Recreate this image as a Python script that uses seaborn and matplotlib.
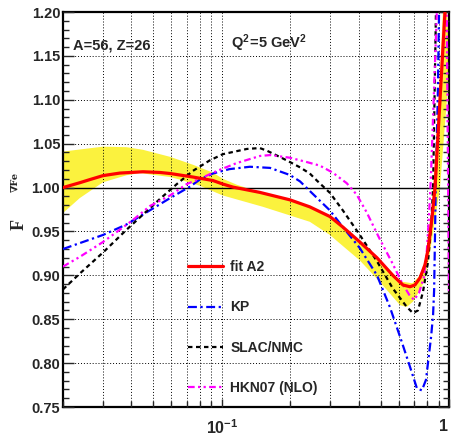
import numpy as np
import matplotlib
matplotlib.use("Agg")
import matplotlib.pyplot as plt
from matplotlib import font_manager
from matplotlib.ticker import FixedLocator, FixedFormatter, NullFormatter
import seaborn as sns

# ---------------- data ----------------
fit_x = [0.0200, 0.0237, 0.0262, 0.0300, 0.0356, 0.0450, 0.0534, 0.0592, 0.0746, 0.0914,
         0.101, 0.112, 0.147, 0.1995, 0.244, 0.299, 0.341, 0.405, 0.482, 0.566,
         0.627, 0.673, 0.708, 0.745, 0.784, 0.808, 0.843, 0.868, 0.913, 0.960, 0.985]
fit_y = [1.000, 1.0055, 1.009, 1.0136, 1.0165, 1.018, 1.0172, 1.016, 1.012, 1.008,
         1.004, 1.0005, 0.9945, 0.986, 0.978, 0.967, 0.955, 0.938, 0.920, 0.900,
         0.889, 0.887, 0.889, 0.897, 0.912, 0.929, 0.967, 1.000, 1.100, 1.200, 1.260]

band_up_x = [0.020, 0.0300, 0.0381, 0.045, 0.0592, 0.0746, 0.0914, 0.101, 0.117, 0.158,
             0.221, 0.244, 0.299, 0.405, 0.494, 0.609, 0.690, 0.745, 0.784, 0.828,
             0.851, 0.900, 0.940, 0.960]
band_up_y = [1.041, 1.0466, 1.046, 1.043, 1.035, 1.026, 1.017, 1.010, 1.003, 0.992,
             0.982, 0.979, 0.967, 0.938, 0.916, 0.893, 0.891, 0.900, 0.917, 0.960,
             1.000, 1.100, 1.200, 1.250]
band_lo_x = [0.020, 0.0237, 0.0300, 0.0381, 0.0436, 0.0592, 0.0655, 0.0801, 0.101, 0.152,
             0.244, 0.299, 0.405, 0.494, 0.609, 0.652, 0.694, 0.745, 0.784, 0.828,
             0.913, 0.979, 1.000]
band_lo_y = [0.971, 0.988, 1.006, 1.014, 1.0165, 1.012, 1.009, 1.002, 0.991, 0.978,
             0.961, 0.946, 0.917, 0.893, 0.866, 0.864, 0.870, 0.883, 0.895, 0.929,
             1.000, 1.100, 1.150]

kp_x = [0.020, 0.030, 0.0381, 0.0468, 0.0592, 0.0723, 0.080, 0.0914, 0.108, 0.133,
        0.163, 0.1995, 0.221, 0.251, 0.299, 0.341, 0.405, 0.482, 0.549, 0.609,
        0.673, 0.723, 0.760, 0.792, 0.808, 0.834, 0.851, 0.860, 0.868, 0.874,
        0.892, 0.904, 0.915]
kp_y = [0.930, 0.946, 0.958, 0.972, 0.988, 1.001, 1.009, 1.016, 1.021, 1.0237,
        1.0224, 1.0143, 1.007, 0.993, 0.974, 0.955, 0.931, 0.900, 0.864, 0.830,
        0.796, 0.771, 0.769, 0.781, 0.800, 0.830, 0.855, 0.883, 0.948, 1.000,
        1.100, 1.200, 1.280]

slac_x = [0.0200, 0.0237, 0.0300, 0.0381, 0.0436, 0.0534, 0.0634, 0.0746, 0.0886, 0.101,
          0.129, 0.147, 0.158, 0.193, 0.221, 0.244, 0.262, 0.299, 0.341, 0.405,
          0.482, 0.566, 0.652, 0.694, 0.730, 0.768, 0.808, 0.834, 0.851, 0.876, 0.890]
slac_y = [0.884, 0.902, 0.926, 0.952, 0.966, 0.987, 1.004, 1.019, 1.031, 1.038,
          1.044, 1.045, 1.042, 1.031, 1.023, 1.016, 1.008, 0.994, 0.974, 0.946,
          0.916, 0.885, 0.864, 0.857, 0.860, 0.881, 0.915, 0.955, 1.000, 1.200, 1.300]

hkn_x = [0.0200, 0.0237, 0.0300, 0.0356, 0.0406, 0.0483, 0.0592, 0.0701, 0.0801, 0.0953,
         0.1166, 0.1474, 0.1632, 0.1995, 0.2370, 0.2701, 0.3078, 0.3546, 0.3922, 0.4337,
         0.4941, 0.5629, 0.6224, 0.6676, 0.7017, 0.7377, 0.7756, 0.7993, 0.8154, 0.8319,
         0.8838, 0.900, 0.960, 0.977, 0.990, 1.000]
hkn_y = [0.910, 0.921, 0.938, 0.952, 0.963, 0.979, 0.991, 1.004, 1.010, 1.019,
         1.028, 1.036, 1.037, 1.034, 1.029, 1.025, 1.017, 1.005, 0.992, 0.972,
         0.942, 0.914, 0.891, 0.878, 0.872, 0.880, 0.898, 0.929, 0.965, 1.010,
         1.200, 1.300, 1.300, 1.200, 1.020, 0.880]

y_ticks = [0.75, 0.80, 0.85, 0.90, 0.95, 1.00, 1.05, 1.10, 1.15, 1.20]
y_tick_labels = ["0.75", "0.80", "0.85", "0.90", "0.95", "1.00", "1.05", "1.10", "1.15", "1.20"]
x_major = [0.1, 1.0]
x_major_labels = [r"$\mathbf{10^{-1}}$", r"$\mathbf{1}$"]
x_minor = [0.02, 0.03, 0.04, 0.05, 0.06, 0.07, 0.08, 0.09,
           0.2, 0.3, 0.4, 0.5, 0.6, 0.7, 0.8, 0.9]
y_minor = [round(0.75 + 0.01 * i, 2) for i in range(46)]

series_labels = ["fit A2", "KP", "SLAC/NMC", "HKN07 (NLO)"]

# ---------------- style ----------------
sns.set_theme(style="white")
available = {f.name for f in font_manager.fontManager.ttflist}
fam = "Liberation Sans Narrow" if "Liberation Sans Narrow" in available else "Liberation Sans"
plt.rcParams["font.family"] = [fam, "DejaVu Sans"]
plt.rcParams["font.weight"] = "bold"
plt.rcParams["mathtext.fontset"] = "custom"
plt.rcParams["mathtext.rm"] = fam + ":bold"
plt.rcParams["mathtext.bf"] = fam + ":bold"
plt.rcParams["mathtext.it"] = fam + ":bold"
plt.rcParams["mathtext.default"] = "bf"

fig = plt.figure(figsize=(4.52, 4.36), dpi=100)
W, H = 452, 436
ax = fig.add_axes([63 / W, 29 / H, 386 / W, 395 / H])
ax.set_xscale("log")

# band
poly_x = np.concatenate([band_up_x, band_lo_x[::-1]])
poly_y = np.concatenate([band_up_y, band_lo_y[::-1]])
ax.fill(poly_x, poly_y, color="#fbf23e", lw=0, zorder=1)

ax.axhline(1.0, color="black", lw=1.0, zorder=2)

sns.lineplot(x=fit_x, y=fit_y, ax=ax, color="#ff0000", lw=2.3, sort=False,
             estimator=None, label=series_labels[0], zorder=5)
sns.lineplot(x=kp_x, y=kp_y, ax=ax, color="#0000ff", lw=1.6, sort=False,
             estimator=None, label=series_labels[1], zorder=4)
ax.lines[-1].set_dashes([4, 1.6, 1, 1.6])
sns.lineplot(x=slac_x, y=slac_y, ax=ax, color="black", lw=1.6, sort=False,
             estimator=None, label=series_labels[2], zorder=4)
ax.lines[-1].set_dashes([2, 1.6])
sns.lineplot(x=hkn_x, y=hkn_y, ax=ax, color="#ff00ff", lw=1.6, sort=False,
             estimator=None, label=series_labels[3], zorder=4)
ax.lines[-1].set_dashes([3, 1.5, 1, 1.5, 1, 1.5])

ax.set_xlim(0.02, 1.0)
ax.set_ylim(0.75, 1.20)

ax.xaxis.set_major_locator(FixedLocator(x_major))
ax.xaxis.set_major_formatter(FixedFormatter(x_major_labels))
ax.xaxis.set_minor_locator(FixedLocator(x_minor))
ax.xaxis.set_minor_formatter(NullFormatter())
ax.yaxis.set_major_locator(FixedLocator(y_ticks))
ax.yaxis.set_major_formatter(FixedFormatter(y_tick_labels))
ax.yaxis.set_minor_locator(FixedLocator(y_minor))

ax.set_axisbelow(False)
ax.grid(True, which="major", axis="y", color="black", lw=0.7, ls=(0, (1, 2)))
ax.grid(True, which="both", axis="x", color="black", lw=0.7, ls=(0, (1, 2)))

ax.tick_params(axis="y", which="major", direction="in", length=8, width=1,
               left=True, right=True, labelsize=10.5, pad=2)
ax.tick_params(axis="y", which="minor", direction="in", length=4, width=1,
               left=True, right=True)
ax.tick_params(axis="x", which="major", direction="in", length=6, width=1,
               bottom=True, top=False, labelsize=11.5, pad=8)
ax.tick_params(axis="x", which="minor", direction="in", length=4, width=1,
               bottom=True, top=False)
for lab in ax.get_yticklabels():
    lab.set_fontweight("bold")
# keep the "1" label inside the figure
ax.xaxis.get_major_ticks()[-1].label1.set_horizontalalignment("right")

for sp in ax.spines.values():
    sp.set_visible(True)
    sp.set_color("black")
    sp.set_linewidth(1.6)

ax.set_xlabel("")
ax.set_ylabel("")

ax.legend(loc="upper left", bbox_to_anchor=(0.324, 0.372), frameon=False,
          handlelength=2.5, handletextpad=0.55, labelspacing=1.9,
          borderpad=0, borderaxespad=0,
          prop={"family": [fam, "DejaVu Sans"], "weight": "bold", "size": 10})

ax.text(0.026, 0.906, "A=56, Z=26", transform=ax.transAxes, fontsize=10.5,
        fontweight="bold", va="baseline", ha="left")
ax.text(0.435, 0.909, r"$\mathbf{Q^{2}\!=\!5\ GeV^{2}}$", transform=ax.transAxes,
        fontsize=10.5, va="baseline", ha="left")

fig.text(19 / W, 1 - 224 / H, "F", rotation=90, fontsize=13, fontweight="bold",
         ha="center", va="center", family=["Liberation Serif", "DejaVu Serif"])
fig.text(15 / W, 1 - 182 / H, "∇Fe", rotation=90, fontsize=7, fontweight="bold",
         ha="center", va="center", family=["DejaVu Serif"])

fig.savefig("out.png", dpi=100)
